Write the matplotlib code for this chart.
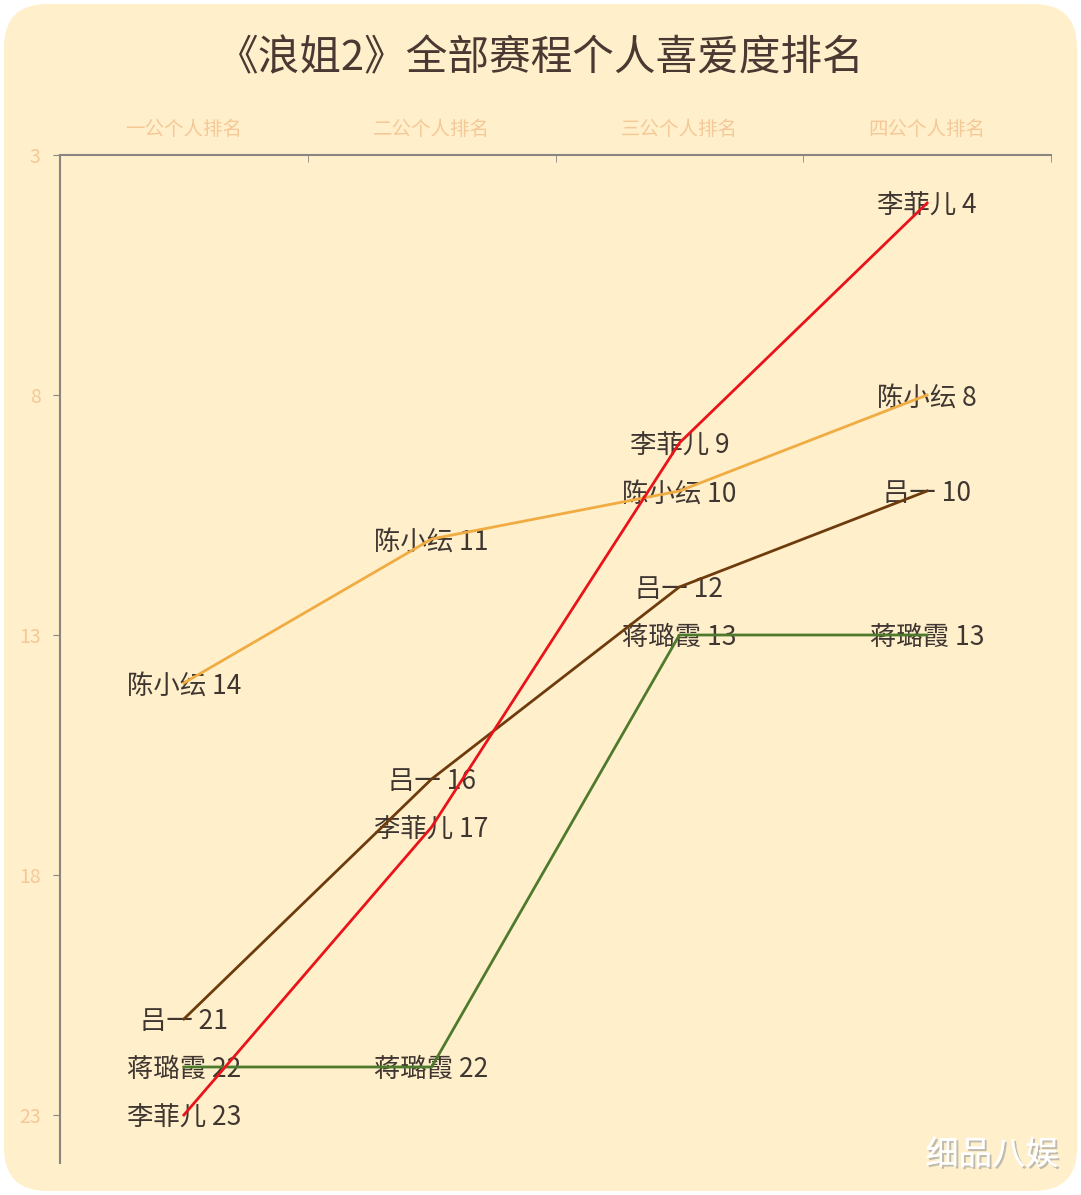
import matplotlib.pyplot as plt
from matplotlib.patches import FancyBboxPatch
import matplotlib.patheffects as pe

plt.rcParams['font.family'] = ['Noto Sans CJK SC', 'DejaVu Sans']

# Data
rounds = ["一公个人排名", "二公个人排名", "三公个人排名", "四公个人排名"]
names = ["陈小纭", "吕一", "蒋璐霞", "李菲儿"]
chen_xiaoyun = [14, 11, 10, 8]
lv_yi = [21, 16, 12, 10]
jiang_luxia = [22, 22, 13, 13]
li_feier = [23, 17, 9, 4]
series = [chen_xiaoyun, lv_yi, jiang_luxia, li_feier]
colors = ["#F0AC42", "#6E3C0C", "#4D7A2C", "#E8141A"]
y_ticks = [3, 8, 13, 18, 23]

W, H = 1081, 1195
fig = plt.figure(figsize=(W / 100, H / 100), dpi=100)
fig.patch.set_facecolor("white")

# rounded cream background
bg = FancyBboxPatch((4 / W, 4 / H), (W - 8) / W, (H - 8) / H,
                    boxstyle="round,pad=0,rounding_size=0.04",
                    transform=fig.transFigure, facecolor="#FFF0CB",
                    edgecolor="none", zorder=-5, mutation_aspect=W / H)
fig.patches.append(bg)

fig.text(0.5, 1 - 59 / H, "《浪姐2》全部赛程个人喜爱度排名", ha="center", va="center",
         fontsize=30, color="#4A3832", fontweight="medium")

ax = fig.add_axes([60 / W, 1 - 1163 / H, (1051 - 60) / W, (1163 - 155) / H])
ax.set_facecolor("none")
ax.set_zorder(2)

x = list(range(len(rounds)))
for vals, c, n in zip(series, colors, names):
    ax.plot(x, vals, color=c, lw=2.0, zorder=3, solid_joinstyle="round")
    for xi, v in zip(x, vals):
        ax.text(xi, v + 0.06, f"{n} {v}", ha="center", va="center", fontsize=19,
                color="#3F3632", zorder=2)

ax.set_xlim(-0.5, 3.5)
ax.set_ylim(24, 3)
ax.set_yticks(y_ticks)
ax.set_yticklabels([str(t) for t in y_ticks], fontsize=14, color="#F5C898")
ax.tick_params(axis="y", direction="out", length=5, color="#8A8580", pad=9)

ax.xaxis.tick_top()
ax.set_xticks(x)
ax.set_xticklabels(rounds, fontsize=14, color="#F5C898")
ax.tick_params(axis="x", which="major", length=0, pad=11)
ax.set_xticks([0.5, 1.5, 2.5, 3.5], minor=True)
ax.tick_params(axis="x", which="minor", direction="in", length=5,
               color="#8A8580", top=True, bottom=False)

for s in ["right", "bottom"]:
    ax.spines[s].set_visible(False)
for s in ["top", "left"]:
    ax.spines[s].set_color("#8A8580")
    ax.spines[s].set_linewidth(1.5)

# watermark
fig.text(992 / W, 1 - 1155 / H, "细品八娱", ha="center", va="center", fontsize=24,
         color="white",
         path_effects=[pe.withSimplePatchShadow(offset=(1.5, -1.5), shadow_rgbFace="#999999", alpha=0.6),
                       pe.Normal()])

fig.savefig("out.png", dpi=100, facecolor=fig.get_facecolor())
